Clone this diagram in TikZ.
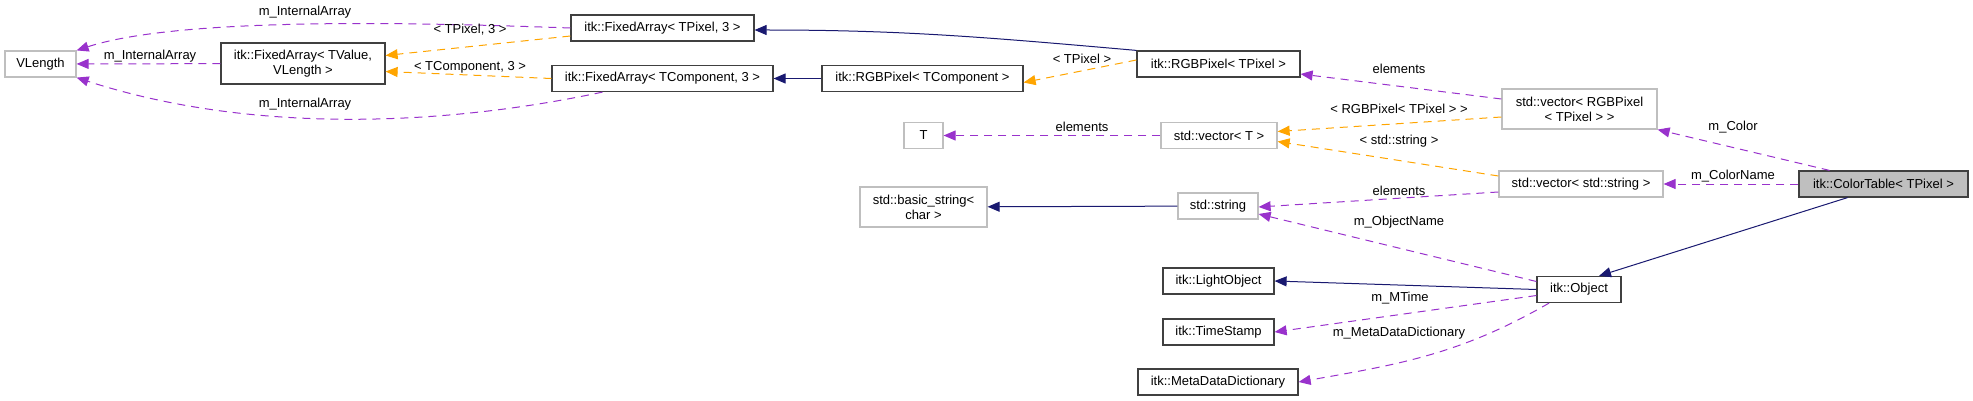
\documentclass[tikz,border=0pt]{standalone}
\usepackage{fontspec}
\setmainfont{Liberation Sans}
\usetikzlibrary{arrows.meta}
\definecolor{midnight}{RGB}{25,25,112}
\definecolor{orchid}{RGB}{153,50,204}
\definecolor{orangeedge}{RGB}{255,165,0}
\definecolor{boxgray}{RGB}{191,191,191}
\tikzset{
  cls/.style={draw=black!75, line width=0.6pt, fill=white, inner xsep=0pt, inner ysep=0pt, minimum height=13pt, align=center, font=\fontsize{6.5}{7.6}\selectfont},
  ext/.style={cls, draw=boxgray},
  lbl/.style={inner sep=0pt, font=\fontsize{6.5}{7.6}\selectfont},
  inherit/.style={draw=midnight, line width=0.5pt, -{Triangle[length=6pt,width=5pt]}},
  member/.style={draw=orchid, line width=0.5pt, dash pattern=on 4pt off 3pt, -{Triangle[length=6pt,width=5pt]}},
  templ/.style={draw=orangeedge, line width=0.5pt, dash pattern=on 4pt off 3pt, -{Triangle[length=6pt,width=5pt]}}
}
\begin{document}
\begin{tikzpicture}[x=0.5pt,y=-0.5pt]
\useasboundingbox (0,0) rectangle (1973,401);

% classes
\node[ext, minimum width=35.5pt] (vlength) at (40.5,64) {VLength};
\node[cls, minimum width=82pt, minimum height=20.5pt] (faValue) at (303,63.5) {itk::FixedArray< TValue,\\VLength >};
\node[cls, minimum width=91.5pt] (faPixel) at (662.5,28) {itk::FixedArray< TPixel, 3 >};
\node[cls, minimum width=110.5pt] (faComp) at (662.5,78.5) {itk::FixedArray< TComponent, 3 >};
\node[cls, minimum width=100.5pt] (rgbComp) at (922.5,78.5) {itk::RGBPixel< TComponent >};
\node[cls, minimum width=81.5pt] (rgbPixel) at (1218.5,64) {itk::RGBPixel< TPixel >};
\node[ext, minimum width=19.5pt] (tparam) at (923.5,135.5) {T};
\node[ext, minimum width=58pt] (vecT) at (1219,135.5) {std::vector< T >};
\node[ext, minimum width=63.5pt, minimum height=20pt] (basicStr) at (923.5,207) {std::basic\_string<\\char >};
\node[ext, minimum width=40pt] (stdStr) at (1218,206) {std::string};
\node[ext, minimum width=77.5pt, minimum height=20pt] (vecRGB) at (1579.5,109) {std::vector< RGBPixel\\< TPixel > >};
\node[ext, minimum width=82pt] (vecStr) at (1581,184) {std::vector< std::string >};
\node[cls, minimum width=84.5pt, fill=boxgray] (colorTable) at (1883.5,184) {itk::ColorTable< TPixel >};
\node[cls, minimum width=42pt] (object) at (1579,289.5) {itk::Object};
\node[cls, minimum width=55.5pt] (lightObj) at (1218.5,281) {itk::LightObject};
\node[cls, minimum width=55.5pt] (timeStamp) at (1218.5,332) {itk::TimeStamp};
\node[cls, minimum width=80pt] (metaDict) at (1218,382) {itk::MetaDataDictionary};

% connectors
\draw[member] (faPixel.west) to[out=178,in=18,looseness=0.6] (vlength.north east);
\draw[member] (faValue) -- (vlength);
\draw[member] ([xshift=-30pt]faComp.south) to[out=-168,in=-18,looseness=0.85] (vlength.south east);
\draw[templ] ([yshift=-4pt]faPixel.west) -- ([yshift=4pt]faValue.east);
\draw[templ] (faComp.west) -- ([yshift=-4pt]faValue.east);
\draw[inherit] (rgbPixel.north west) to[out=175,in=0] ([yshift=-1pt]faPixel.east);
\draw[inherit] (rgbComp) -- (faComp);
\draw[templ] ([yshift=2pt]rgbPixel.west) -- ([yshift=-2pt]rgbComp.east);
\draw[member] ([yshift=5pt]vecRGB.west) -- ([yshift=-5pt]rgbPixel.east);
\draw[templ] ([yshift=-4pt]vecRGB.west) -- ([yshift=2pt]vecT.east);
\draw[templ] ([yshift=4pt]vecStr.west) -- ([yshift=-3pt]vecT.east);
\draw[member] (vecT) -- (tparam);
\draw[inherit] (stdStr) -- (basicStr);
\draw[member] ([yshift=-4pt]vecStr.west) -- ([yshift=-0.5pt]stdStr.east);
\draw[member] ([yshift=4pt]object.west) -- ([yshift=-4pt]stdStr.east);
\draw[inherit] (object.west) -- (lightObj.east);
\draw[member] ([yshift=-3pt]object.west) -- (timeStamp.east);
\draw[member] ([xshift=-15pt]object.south) to[out=-150,in=10] (metaDict.east);
\draw[member] ([xshift=-27pt]colorTable.north) -- (vecRGB.south east);
\draw[member] (colorTable) -- (vecStr);
\draw[inherit] ([xshift=-18pt]colorTable.south) -- ([xshift=10pt]object.north);

% labels
\node[lbl] (lInternalTop) at (305,12) {m\_InternalArray};
\node[lbl] (lInternalMid) at (150,56) {m\_InternalArray};
\node[lbl] (lInternalBot) at (305,104) {m\_InternalArray};
\node[lbl] (lPixel3) at (470,30) {< TPixel, 3 >};
\node[lbl] (lComp3) at (470,67) {< TComponent, 3 >};
\node[lbl] (lPixel) at (1082,59) {< TPixel >};
\node[lbl] (lElemRGB) at (1399,69) {elements};
\node[lbl] (lRGBarg) at (1399,109) {< RGBPixel< TPixel > >};
\node[lbl] (lStrArg) at (1399,141) {< std::string >};
\node[lbl] (lElemT) at (1082,127) {elements};
\node[lbl] (lElemStr) at (1399,191) {elements};
\node[lbl] (lObjName) at (1399,222) {m\_ObjectName};
\node[lbl] (lMTime) at (1400,298) {m\_MTime};
\node[lbl] (lMeta) at (1399,333) {m\_MetaDataDictionary};
\node[lbl] (lColor) at (1733,127) {m\_Color};
\node[lbl] (lColorName) at (1733,176) {m\_ColorName};
\end{tikzpicture}
\end{document}
